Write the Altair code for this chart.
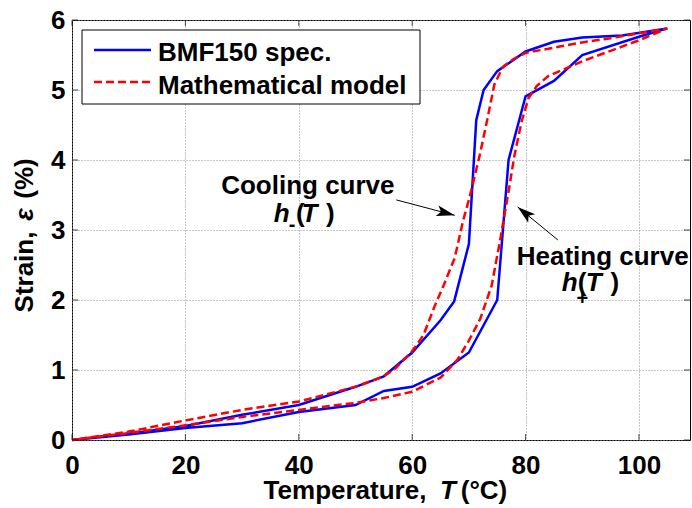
import altair as alt
import pandas as pd

# ---------------- data ----------------
series_names = ["BMF150 spec.", "Mathematical model"]

# experimental loop: heating branch (0 -> 105 C), then cooling branch (105 -> 0 C)
exp_heat_T = [0, 10, 20, 30, 40, 50, 55, 60, 65, 70, 75, 77, 80, 85, 90, 100, 105]
exp_heat_e = [0, 0.08, 0.17, 0.24, 0.40, 0.50, 0.70, 0.76, 0.95, 1.25, 2.0, 4.0, 4.91, 5.13, 5.50, 5.76, 5.88]
exp_cool_T = [105, 97, 90, 85, 80, 75, 72.6, 71.3, 70, 67.4, 65, 60, 55, 50, 40, 30, 20, 10, 0]
exp_cool_e = [5.88, 5.78, 5.75, 5.69, 5.55, 5.27, 5.0, 4.57, 2.8, 1.98, 1.71, 1.25, 0.91, 0.76, 0.50, 0.36, 0.20, 0.09, 0]

# mathematical model loop
mod_heat_T = [0, 10, 20, 30, 40, 50, 55, 60, 65, 68, 70, 72, 74, 75.5, 77, 78, 79.3, 80.5, 82, 84, 86, 90, 95, 100, 105]
mod_heat_e = [0, 0.10, 0.21, 0.33, 0.43, 0.53, 0.60, 0.69, 0.89, 1.15, 1.42, 1.73, 2.20, 2.85, 3.55, 4.05, 4.55, 4.88, 5.06, 5.20, 5.27, 5.41, 5.56, 5.71, 5.88]
mod_cool_T = [105, 100, 95, 90, 86, 80, 78, 76, 74.5, 73.3, 72, 71, 70, 69, 67.5, 65.5, 64, 62, 60, 57, 55, 50, 40, 30, 20, 10, 0]
mod_cool_e = [5.88, 5.81, 5.74, 5.68, 5.62, 5.53, 5.45, 5.33, 5.08, 4.60, 4.10, 3.76, 3.43, 3.14, 2.60, 2.20, 1.92, 1.50, 1.27, 1.02, 0.91, 0.76, 0.55, 0.43, 0.28, 0.12, 0]

x_ticks = [0, 20, 40, 60, 80, 100]
y_ticks = [0, 1, 2, 3, 4, 5, 6]

# axis titles, split where the reference switches to italic
x_title_parts = ["Temperature,", "T", "(°C)"]
y_title_parts = ["Strain,", "ε", "(%)"]

# annotation texts
ann_titles = ["Cooling curve", "Heating curve"]
ann_title_T = [41.6, 93.6]
ann_title_e = [3.52, 2.50]

ital_text = ["h", "T", "h", "T"]
ital_T = [35.6, 40.5, 86.4, 90.6]
ital_e = [3.114, 3.114, 2.129, 2.129]

up_text = ["(", ")", "(", ")"]
up_T = [39.5, 44.8, 89.2, 95.0]
up_e = [3.114, 3.114, 2.129, 2.129]

sub_text = ["-", "+"]
sub_T = [38.25, 89.0]
sub_e = [2.99, 1.93]

arrow_T0 = [57.2, 85.7]
arrow_e0 = [3.43, 2.857]
arrow_T1 = [67.5, 78.6]
arrow_e1 = [3.21, 3.33]
arrow_ang = [14.4, 219.5]

# ---------------- build tables ----------------
def loop_df(Ts1, es1, Ts2, es2):
    T = list(Ts1) + list(Ts2)
    e = list(es1) + list(es2)
    return pd.DataFrame({"T": T, "e": e, "idx": list(range(len(T)))})

exp_df = loop_df(exp_heat_T, exp_heat_e, exp_cool_T, exp_cool_e)
mod_df = loop_df(mod_heat_T, mod_heat_e, mod_cool_T, mod_cool_e)

FONT = "Liberation Sans"
FS = 26
W, H = 618, 420

xscale = alt.Scale(domain=[0, 109], nice=False, zero=False)
yscale = alt.Scale(domain=[0, 6], nice=False, zero=False)

xaxis = alt.Axis(values=x_ticks, title="", labelFontSize=FS, labelFontWeight="bold",
                 labelFont=FONT, ticks=False, domain=False, labelPadding=12, grid=True,
                 gridDash=[1, 2], gridColor="#8c8c8c", labelColor="black", labelFlush=False)
yaxis = alt.Axis(values=y_ticks, title="", labelFontSize=FS, labelFontWeight="bold",
                 labelFont=FONT, ticks=False, domain=False, labelPadding=7, grid=True,
                 gridDash=[1, 2], gridColor="#8c8c8c", labelColor="black", labelFlush=False)


def X(field):
    return alt.X(field, scale=xscale, axis=xaxis)


def Y(field):
    return alt.Y(field, scale=yscale, axis=yaxis)


exp_line = alt.Chart(exp_df).mark_line(color="#0000ff", strokeWidth=2.5).encode(
    x=X("T:Q"), y=Y("e:Q"), order=alt.Order("idx:Q"),
)
mod_line = alt.Chart(mod_df).mark_line(color="#ff0000", strokeWidth=2.5, strokeDash=[8, 4]).encode(
    x=X("T:Q"), y=Y("e:Q"), order=alt.Order("idx:Q"),
)

# inward tick marks on the four sides
xt_df = pd.DataFrame({"v": x_ticks})
yt_df = pd.DataFrame({"v": y_ticks})
tick_style = dict(color="black", thickness=1, size=6)
xt_bot = alt.Chart(xt_df).mark_tick(orient="vertical", **tick_style).encode(x=X("v:Q"), y=alt.value(H - 3))
xt_top = alt.Chart(xt_df).mark_tick(orient="vertical", **tick_style).encode(x=X("v:Q"), y=alt.value(3))
yt_left = alt.Chart(yt_df).mark_tick(orient="horizontal", **tick_style).encode(y=Y("v:Q"), x=alt.value(3))
yt_right = alt.Chart(yt_df).mark_tick(orient="horizontal", **tick_style).encode(y=Y("v:Q"), x=alt.value(W - 3))

# annotations
tit_df = pd.DataFrame({"text": ann_titles, "T": ann_title_T, "e": ann_title_e})
titles = alt.Chart(tit_df).mark_text(font=FONT, fontSize=FS, fontWeight="bold", align="center",
                                     baseline="alphabetic", color="black").encode(
    x=X("T:Q"), y=Y("e:Q"), text="text:N")

it_df = pd.DataFrame({"text": ital_text, "T": ital_T, "e": ital_e})
ital = alt.Chart(it_df).mark_text(font=FONT, fontSize=FS, fontWeight="bold", fontStyle="italic",
                                  align="left", baseline="alphabetic", color="black").encode(
    x=X("T:Q"), y=Y("e:Q"), text="text:N")

up_df = pd.DataFrame({"text": up_text, "T": up_T, "e": up_e})
upr = alt.Chart(up_df).mark_text(font=FONT, fontSize=FS, fontWeight="bold",
                                 align="left", baseline="alphabetic", color="black").encode(
    x=X("T:Q"), y=Y("e:Q"), text="text:N")

sub_df = pd.DataFrame({"text": sub_text, "T": sub_T, "e": sub_e})
subs = alt.Chart(sub_df).mark_text(font=FONT, fontSize=20, fontWeight="bold",
                                   align="left", baseline="alphabetic", color="black").encode(
    x=X("T:Q"), y=Y("e:Q"), text="text:N")

arr_df = pd.DataFrame({"T0": arrow_T0, "e0": arrow_e0, "T1": arrow_T1, "e1": arrow_e1, "ang": arrow_ang})
arr_lines = alt.Chart(arr_df).mark_rule(color="black", strokeWidth=1).encode(
    x=X("T0:Q"), y=Y("e0:Q"), x2="T1:Q", y2="e1:Q")
arr_heads = alt.Chart(arr_df).mark_point(shape="M0,0L-2,-0.6L-1.55,0L-2,0.6Z", filled=True, size=330,
                                         color="black", opacity=1).encode(
    x=X("T1:Q"), y=Y("e1:Q"), angle=alt.Angle("ang:Q", scale=None))

# axis titles as text pieces (italic symbol in the middle)
one = pd.DataFrame({"k": [0]})


def piece(text, x, y, italic=False, angle=0):
    kw = dict(font=FONT, fontSize=FS, fontWeight="bold", align="center", baseline="alphabetic",
              color="black", text=text)
    if italic:
        kw["fontStyle"] = "italic"
    if angle:
        kw["angle"] = angle
    return alt.Chart(one).mark_text(**kw).encode(x=alt.value(x), y=alt.value(y))


xt_pieces = [
    piece(x_title_parts[0], 273, 479),
    piece(x_title_parts[1], 376, 479, italic=True),
    piece(x_title_parts[2], 412, 479),
]
yt_pieces = [
    piece(y_title_parts[0], -39, 252, angle=270),
    piece(y_title_parts[1], -39, 194.5, italic=True, angle=270),
    piece(y_title_parts[2], -39, 158.5, angle=270),
]

# legend box
leg_box = alt.Chart(one).mark_rect(fill="white", stroke="black", strokeWidth=1).encode(
    x=alt.value(10), x2=alt.value(348), y=alt.value(10), y2=alt.value(84))
leg_blue = alt.Chart(one).mark_rule(color="#0000ff", strokeWidth=2.5).encode(
    x=alt.value(22), x2=alt.value(79), y=alt.value(30))
leg_red = alt.Chart(one).mark_rule(color="#ff0000", strokeWidth=2.5, strokeDash=[8, 4]).encode(
    x=alt.value(22), x2=alt.value(79), y=alt.value(62))
leg_df1 = pd.DataFrame({"label": [series_names[0]]})
leg_df2 = pd.DataFrame({"label": [series_names[1]]})
leg_t1 = alt.Chart(leg_df1).mark_text(font=FONT, fontSize=FS, fontWeight="bold", align="left",
                                      baseline="alphabetic", color="black").encode(
    x=alt.value(86), y=alt.value(41), text="label:N")
leg_t2 = alt.Chart(leg_df2).mark_text(font=FONT, fontSize=FS, fontWeight="bold", align="left",
                                      baseline="alphabetic", color="black").encode(
    x=alt.value(86), y=alt.value(74), text="label:N")

chart = alt.layer(
    exp_line, mod_line, xt_bot, xt_top, yt_left, yt_right,
    arr_lines, arr_heads, titles, ital, upr, subs,
    *xt_pieces, *yt_pieces,
    leg_box, leg_blue, leg_red, leg_t1, leg_t2,
).properties(
    width=W, height=H,
    autosize=alt.AutoSizeParams(type="none"),
    padding={"left": 72, "top": 20, "right": 2, "bottom": 68},
    background="white",
).configure_view(stroke="black", strokeWidth=1)

chart.save("out.html", embed_options={"renderer": "svg", "actions": False})
